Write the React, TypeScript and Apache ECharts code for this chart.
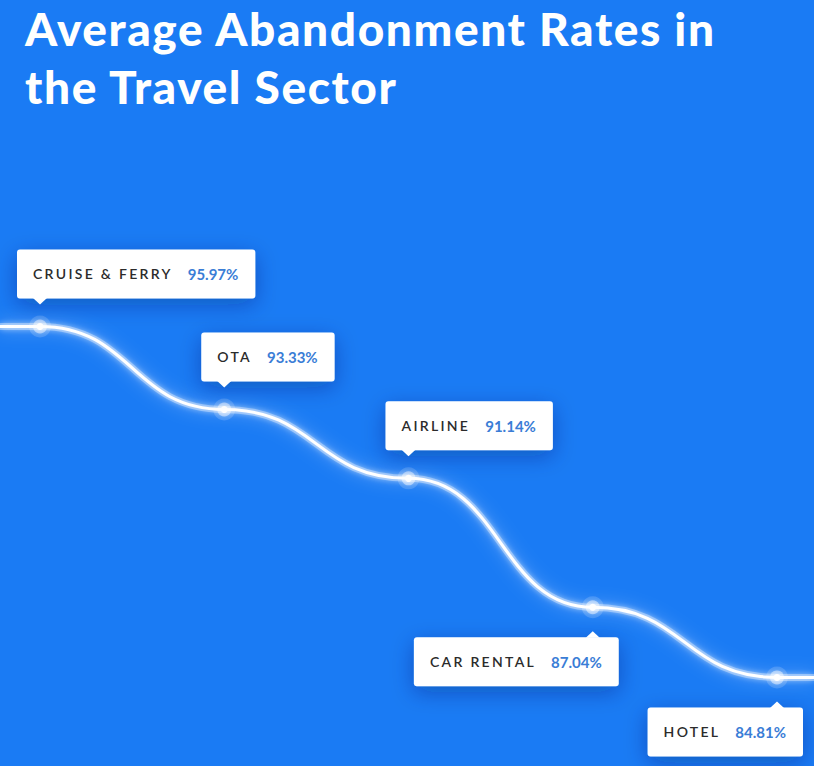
import React, { useEffect, useRef } from "react";
import * as echarts from "echarts";

const categories = ["CRUISE & FERRY", "OTA", "AIRLINE", "CAR RENTAL", "HOTEL"];
const rates = [95.97, 93.33, 91.14, 87.04, 84.81];
const rateLabels = ["95.97%", "93.33%", "91.14%", "87.04%", "84.81%"];
const titleText = "Average Abandonment Rates in\nthe Travel Sector";

const NAME_COLOR = "#2b2b2b";
const NAME_SIZE = 14;
const NAME_FONT = `600 ${NAME_SIZE}px Lato`;
const NAME_SPACING = 2.3;
const VALUE_SIZE = 15;
const VALUE_FONT = `bold ${VALUE_SIZE}px Lato`;
const VALUE_COLOR = "#3a7dd6";
const TITLE_COLOR = "#fffffe";
const TITLE_SPACING = 1.6;
const BG = "#1a7bf4";

let measureCtx: CanvasRenderingContext2D | null = null;
function measure(text: string, font: string): number {
  if (!measureCtx) {
    const c = document.createElement("canvas");
    measureCtx = c.getContext("2d");
  }
  if (!measureCtx) return text.length * 8;
  measureCtx.font = font;
  return measureCtx.measureText(text).width;
}

export default function App() {
  const ref = useRef<HTMLDivElement>(null);

  useEffect(() => {
    document.body.style.margin = "0";
    const styleEl = document.createElement("style");
    styleEl.textContent =
      `text[fill="${NAME_COLOR}"]{letter-spacing:${NAME_SPACING}px;}` +
      `text[fill="${TITLE_COLOR}"]{letter-spacing:${TITLE_SPACING}px;}`;
    document.head.appendChild(styleEl);

    if (!ref.current) return;
    const chart = echarts.init(ref.current, null, { renderer: "svg" });
    const seriesData = rates.map((v, i) => [i, v]);

    const option: any = {
      animation: false,
      backgroundColor: BG,
      title: {
        text: titleText,
        left: 25,
        top: -1,
        padding: 0,
        textStyle: {
          color: TITLE_COLOR,
          fontSize: 46,
          fontWeight: 900,
          fontFamily: "Lato",
          lineHeight: 58,
        },
      },
      grid: { left: 0, right: 0, top: 0, bottom: 0 },
      xAxis: {
        type: "value",
        min: -0.2171,
        max: 4.2008,
        show: false,
      },
      yAxis: {
        type: "value",
        min: 81.994,
        max: 106.35,
        show: false,
      },
      series: [
        {
          type: "custom",
          z: 1,
          clip: false,
          data: seriesData,
          renderItem: (params: any, api: any) => {
            if (params.dataIndex !== 0) return null;
            const cs = params.coordSys;
            const pts = rates.map((v, i) => api.coord([i, v]));
            let d = `M${cs.x} ${pts[0][1]} L${pts[0][0]} ${pts[0][1]}`;
            for (let i = 1; i < pts.length; i++) {
              const [x0, y0] = pts[i - 1];
              const [x1, y1] = pts[i];
              const xm = (x0 + x1) / 2;
              d += ` C${xm} ${y0} ${xm} ${y1} ${x1} ${y1}`;
            }
            d += ` L${cs.x + cs.width} ${pts[pts.length - 1][1]}`;
            return {
              type: "group",
              children: [
                {
                  type: "path",
                  shape: { pathData: d },
                  style: {
                    fill: "none",
                    stroke: "rgba(255,255,255,0.35)",
                    lineWidth: 7,
                    shadowBlur: 16,
                    shadowColor: "rgba(255,255,255,0.95)",
                  },
                },
                {
                  type: "path",
                  shape: { pathData: d },
                  style: {
                    fill: "none",
                    stroke: "#ffffff",
                    lineWidth: 3,
                    shadowBlur: 6,
                    shadowColor: "#ffffff",
                  },
                },
              ],
            };
          },
        },
        {
          type: "custom",
          z: 2,
          clip: false,
          data: seriesData,
          renderItem: (params: any, api: any) => {
            const i = params.dataIndex;
            const [px, py] = api.coord([api.value(0), api.value(1)]);
            const name = categories[i];
            const val = rateLabels[i];
            const nameW = measure(name, NAME_FONT) + NAME_SPACING * name.length;
            const valW = measure(val, VALUE_FONT);
            const padL = 16;
            const padR = 17;
            const gap = 15;
            const boxW = padL + nameW + gap + valW + padR;
            const boxH = 49;
            const below = i >= 3;
            const bx = below ? px + 26 - boxW : px - 23;
            const by = below ? py + 30 : py - 28 - boxH;
            const pointer = below
              ? [
                  [px - 7, by + 0.5],
                  [px + 7, by + 0.5],
                  [px, by - 6],
                ]
              : [
                  [px - 7, by + boxH - 0.5],
                  [px + 7, by + boxH - 0.5],
                  [px, by + boxH + 6],
                ];
            const shadow = {
              shadowBlur: 22,
              shadowColor: "rgba(0,30,100,0.35)",
              shadowOffsetY: 6,
            };
            return {
              type: "group",
              children: [
                {
                  type: "circle",
                  shape: { cx: px, cy: py, r: 11 },
                  style: { fill: "rgba(255,255,255,0.16)" },
                },
                {
                  type: "circle",
                  shape: { cx: px, cy: py, r: 7 },
                  style: { fill: "rgba(255,255,255,0.45)" },
                },
                {
                  type: "circle",
                  shape: { cx: px, cy: py, r: 3.5 },
                  style: { fill: "#ffffff", shadowBlur: 6, shadowColor: "#ffffff" },
                },
                {
                  type: "rect",
                  shape: { x: bx, y: by, width: boxW, height: boxH, r: 3 },
                  style: { fill: "#ffffff", ...shadow },
                },
                {
                  type: "polygon",
                  shape: { points: pointer },
                  style: { fill: "#ffffff" },
                },
                {
                  type: "text",
                  x: bx + padL,
                  y: by + boxH / 2,
                  style: {
                    text: name,
                    fill: NAME_COLOR,
                    fontSize: NAME_SIZE,
                    fontWeight: 600,
                    fontFamily: "Lato",
                    align: "left",
                    verticalAlign: "middle",
                  },
                },
                {
                  type: "text",
                  x: bx + boxW - padR,
                  y: by + boxH / 2,
                  style: {
                    text: val,
                    fill: VALUE_COLOR,
                    fontSize: VALUE_SIZE,
                    fontWeight: "bold",
                    fontFamily: "Lato",
                    align: "right",
                    verticalAlign: "middle",
                  },
                },
              ],
            };
          },
        },
      ],
    };

    chart.setOption(option);
    return () => {
      chart.dispose();
      styleEl.remove();
    };
  }, []);

  return <div ref={ref} style={{ width: 814, height: 766 }} />;
}
